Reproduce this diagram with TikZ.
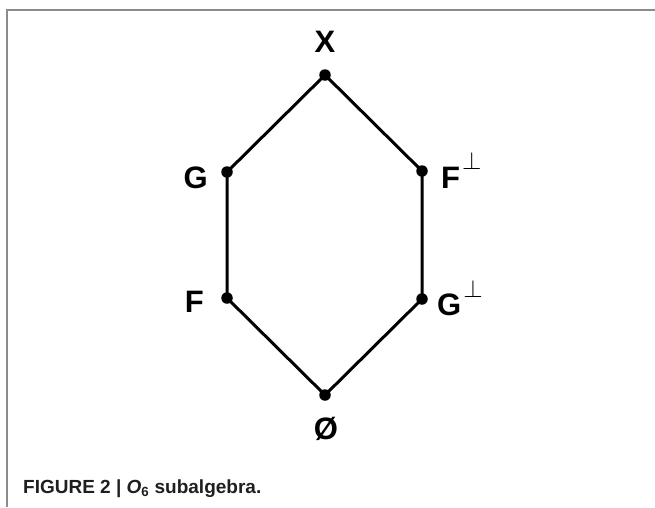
\documentclass[tikz,border=0pt]{standalone}
\usepackage{fontspec}
\setmainfont{Liberation Sans}
\begin{document}
\begin{tikzpicture}[x=1pt,y=-1pt,
  vertex/.style={circle,fill=black,inner sep=0pt,minimum size=11.5pt},
  edge/.style={line width=3pt,black},
  lbl/.style={inner sep=0pt,font=\fontsize{31}{31}\selectfont\bfseries},
  frameline/.style={draw=black!45,line width=1.5pt}]
\useasboundingbox (0,0) rectangle (655,507);
\draw[frameline] (7,507) -- (7,10) -- (655,10);
% vertices
\node[vertex] (X) at (325,75) {};
\node[vertex] (G) at (227,172) {};
\node[vertex] (Fp) at (422,171) {};
\node[vertex] (F) at (227,298) {};
\node[vertex] (Gp) at (422,299) {};
\node[vertex] (E) at (325,395) {};
% edges
\draw[edge] (X.center) -- (G.center) -- (F.center) -- (E.center) -- (Gp.center) -- (Fp.center) -- (X.center);
% labels
\newcommand{\perpsup}[1]{\kern2pt\raisebox{#1}{\fontsize{27}{27}\selectfont$\perp$}}
\node[lbl,anchor=base] (lX) at (325,52) {X};
\node[lbl,anchor=base east] (lG) at (208,188) {G};
\node[lbl,anchor=base west] (lFp) at (441,188) {F\perpsup{19pt}};
\node[lbl,anchor=base east] (lF) at (204,312) {F};
\node[lbl,anchor=base west] (lGp) at (437,315) {G\perpsup{18pt}};
\node[lbl,anchor=center] (lE) at (326,429) {Ø};
% caption
\node[inner sep=0pt,anchor=base west,text=black!88,font=\fontsize{19}{20}\selectfont\bfseries] (cap) at (23,493)
  {FIGURE 2 | \textit{O}\textsubscript{6} subalgebra.};
\end{tikzpicture}
\end{document}
